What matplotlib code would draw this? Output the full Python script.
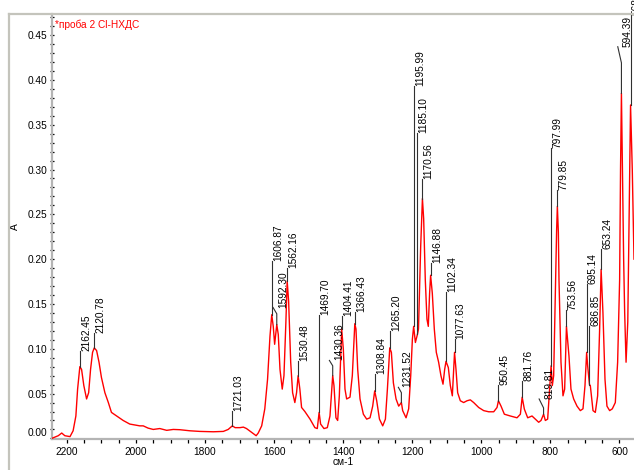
import numpy as np
import matplotlib
matplotlib.use('Agg')
import matplotlib.pyplot as plt
import matplotlib.transforms as mtrans
from matplotlib.lines import Line2D
from matplotlib.ticker import MultipleLocator, FormatStrFormatter

plt.rc('font', **{'family': 'sans-serif', 'sans-serif': ['Liberation Sans', 'DejaVu Sans']})

################################################################
# Data
wn = [2244, 2225, 2215, 2206, 2191, 2182, 2174, 2169, 2162.5, 2157.5, 2151, 2143, 2137, 2131.5, 2125.7,
      2120.8, 2114, 2107, 2100, 2090, 2080, 2071, 2056, 2037, 2018, 1989, 1979, 1965, 1950, 1931, 1911,
      1892, 1873, 1844, 1815, 1776, 1747, 1733, 1721, 1713, 1699, 1689, 1680, 1665, 1652, 1646, 1636,
      1627, 1619, 1612, 1606.9, 1602.5, 1598.5, 1592.3, 1588, 1583, 1576.5, 1571.5, 1566, 1562.2, 1558,
      1552, 1546.5, 1540, 1535, 1530.5, 1525.5, 1520.5, 1511, 1496, 1482, 1475, 1469.7, 1465.4, 1455.7,
      1446, 1438.3, 1430.4, 1426.7, 1421, 1416, 1411.2, 1404.4, 1399.6, 1394.8, 1390, 1380.3, 1373.6,
      1366.4, 1363, 1358, 1351.3, 1341.6, 1332, 1322.3, 1314.6, 1308.8, 1303, 1295, 1285.6, 1277.8, 1272,
      1265.2, 1260.5, 1254.7, 1247, 1239.3, 1231.5, 1227.8, 1218, 1210.4, 1204.5, 1199.7, 1196, 1191,
      1185.1, 1182, 1179.5, 1175.6, 1170.6, 1167, 1162.3, 1157.5, 1153.6, 1149.8, 1146.9, 1142, 1136.2,
      1130.4, 1123.7, 1117, 1111, 1106.2, 1102.3, 1095.6, 1089.8, 1084, 1077.6, 1073.4, 1068.6, 1060.9,
      1051.2, 1041.5, 1031.9, 1022.2, 1007.7, 993.2, 978.7, 964.2, 954.6, 950.5, 943, 933.4, 916, 896.7,
      887, 881.8, 875.5, 865.8, 853.3, 843.6, 834, 827.2, 819.8, 814.7, 808, 802.2, 798, 794.5, 790.6,
      785.8, 782, 779.9, 777, 775.2, 769.4, 763.6, 758.8, 753.6, 746.3, 740.5, 732.7, 723, 713.4, 705.7,
      699.9, 695.1, 692.2, 686.9, 684.5, 676.7, 670, 663.3, 657.5, 653.2, 647.9, 642, 636.3, 628.5, 620.8,
      612.1, 605.4, 599.6, 597, 594.4, 591.5, 588, 585, 581, 576, 572, 568, 563, 558]
absb = [0.000, 0.003, 0.006, 0.003, 0.002, 0.0085, 0.025, 0.055, 0.080, 0.077, 0.059, 0.044, 0.051, 0.077, 0.096,
        0.101, 0.098, 0.085, 0.068, 0.051, 0.040, 0.029, 0.025, 0.020, 0.016, 0.014, 0.014, 0.0115, 0.010, 0.011, 0.009,
        0.010, 0.0097, 0.0085, 0.0078, 0.0074, 0.0078, 0.010, 0.014, 0.012, 0.012, 0.0126, 0.011, 0.0067, 0.003, 0.006, 0.014,
        0.033, 0.066, 0.114, 0.138, 0.125, 0.105, 0.127, 0.116, 0.077, 0.055, 0.070, 0.129, 0.1756, 0.153,
        0.085, 0.051, 0.040, 0.051, 0.070, 0.055, 0.0345, 0.030, 0.0215, 0.012, 0.011, 0.029, 0.016, 0.011,
        0.012, 0.025, 0.070, 0.059, 0.023, 0.020, 0.0475, 0.122, 0.0995, 0.055, 0.044, 0.046, 0.070,
        0.128, 0.122, 0.077, 0.044, 0.027, 0.0215, 0.023, 0.036, 0.053, 0.042, 0.0215, 0.014, 0.0215, 0.055,
        0.101, 0.096, 0.062, 0.044, 0.036, 0.040, 0.031, 0.023, 0.033, 0.070, 0.1106, 0.125, 0.107,
        0.116, 0.122, 0.159, 0.2145, 0.2676, 0.245, 0.177, 0.133, 0.125, 0.162, 0.182, 0.162, 0.122,
        0.096, 0.085, 0.070, 0.0605, 0.077, 0.086, 0.079, 0.059, 0.0475, 0.096, 0.077, 0.051, 0.042,
        0.040, 0.042, 0.043, 0.040, 0.0345, 0.031, 0.0297, 0.0297, 0.0345, 0.042, 0.036, 0.027, 0.025, 0.023,
        0.027, 0.046, 0.0327, 0.023, 0.025, 0.0215, 0.018, 0.020, 0.027, 0.020, 0.0215, 0.055, 0.081, 0.059, 0.070,
        0.159, 0.233, 0.259, 0.230, 0.177, 0.085, 0.0475, 0.055, 0.125, 0.092, 0.055, 0.044, 0.036, 0.031, 0.033,
        0.059, 0.096, 0.081, 0.060, 0.059, 0.031, 0.029, 0.0475, 0.122, 0.1886, 0.140, 0.066, 0.036, 0.031, 0.033,
        0.040, 0.085, 0.177, 0.300, 0.385, 0.300, 0.200, 0.140, 0.085, 0.130, 0.250, 0.372, 0.300, 0.200]

# Peak picking: position, curve height, top of the marker line
pk_wn = [2162.45, 2120.78, 1721.03, 1606.87, 1592.30, 1562.16, 1530.48, 1469.70, 1430.36, 1404.41,
         1366.43, 1308.84, 1265.20, 1231.52, 1195.99, 1185.10, 1170.56, 1146.88, 1102.34, 1077.63,
         950.45, 881.76, 819.81, 797.99, 779.85, 753.56, 695.14, 686.85, 653.24, 594.39, 568.11]
pk_y = [0.080, 0.101, 0.014, 0.138, 0.127, 0.1756, 0.070, 0.029, 0.070, 0.122,
        0.128, 0.053, 0.101, 0.040, 0.125, 0.116, 0.2676, 0.182, 0.086, 0.096,
        0.042, 0.046, 0.027, 0.081, 0.259, 0.125, 0.096, 0.060, 0.1886, 0.385, 0.372]
pk_top = [0.097, 0.118, 0.031, 0.198, 0.146, 0.190, 0.086, 0.138, 0.087, 0.137,
          0.141, 0.0716, 0.120, 0.057, 0.393, 0.341, 0.289, 0.196, 0.163, 0.1106,
          0.060, 0.064, 0.044, 0.324, 0.277, 0.143, 0.172, 0.125, 0.211, 0.437, 0.472]
# bent leaders: knee height, shift of the leader end
kinks = {1592.30: (0.139, 10.7), 1430.36: (0.081, 9.6), 1231.52: (0.051, 8.7),
         819.81: (0.034, 12.9), 594.39: (0.419, 10.6)}

sample = '*проба 2 Cl-НХДС'
fs = 7.3

################################################################
# Plot
fig = plt.figure(figsize=(6.34, 4.70), dpi=100)
ax = fig.add_axes([51.7/634, 30.7/470, 1-51.7/634, 425.3/470])

ax.plot(wn, absb, color='#ff0000', lw=1.0, zorder=3)

off = mtrans.offset_copy(ax.transData, fig=fig, x=1.2, y=0, units='dots')
for w, y0, y1 in zip(pk_wn, pk_y, pk_top):
    if w in kinks:
        kn, dw = kinks[w]
        ax.plot([w, w, w+dw], [y0, kn, y1], color='#303030', lw=0.8, zorder=4, clip_on=False)
    else:
        ax.plot([w, w], [y0, y1], color='#303030', lw=0.8, zorder=4, clip_on=False)
    ax.text(w, y1, '{:.2f}'.format(w), rotation=90, ha='left', va='bottom',
            fontsize=fs, transform=off, clip_on=False)

ax.text(0.006, 0.974, sample, color='#ff0000', fontsize=fs, transform=ax.transAxes, va='center')

ax.set_xlim(2244, 558)
ax.set_ylim(-0.001, 0.4735)
ax.xaxis.set_major_locator(MultipleLocator(200))
ax.xaxis.set_minor_locator(MultipleLocator(50))
ax.yaxis.set_major_locator(MultipleLocator(0.05))
ax.yaxis.set_minor_locator(MultipleLocator(0.01))
ax.yaxis.set_major_formatter(FormatStrFormatter('%.2f'))

for s in ['top', 'right']:
    ax.spines[s].set_visible(False)
for s in ['left', 'bottom']:
    ax.spines[s].set_color('#b4b4b4')
    ax.spines[s].set_linewidth(1.6)
ax.tick_params(axis='y', which='both', direction='inout', length=3, width=0.9, labelsize=fs, pad=1.5)
ax.tick_params(axis='x', which='both', direction='out', length=3, width=0.9, labelsize=fs, pad=2.5)

# 0.00 label sits above the axis line
fig.canvas.draw()
for t in ax.get_yticklabels():
    if t.get_text() == '0.00':
        t.set_transform(t.get_transform() + mtrans.ScaledTranslation(0, 6/100, fig.dpi_scale_trans))

ax.set_ylabel('A', fontsize=fs)
ax.yaxis.set_label_coords(-0.054, 0.5)
ax.set_xlabel('см-1', fontsize=fs)
ax.xaxis.set_label_coords(0.5, -0.042)

# outer panel frame
fig.add_artist(Line2D([9/634, 9/634], [0, 1-14/470], color='#c4c4bc', lw=1.6))
fig.add_artist(Line2D([9/634, 1], [1-14/470, 1-14/470], color='#c4c4bc', lw=1.6))

plt.savefig('out.png', dpi=100)
